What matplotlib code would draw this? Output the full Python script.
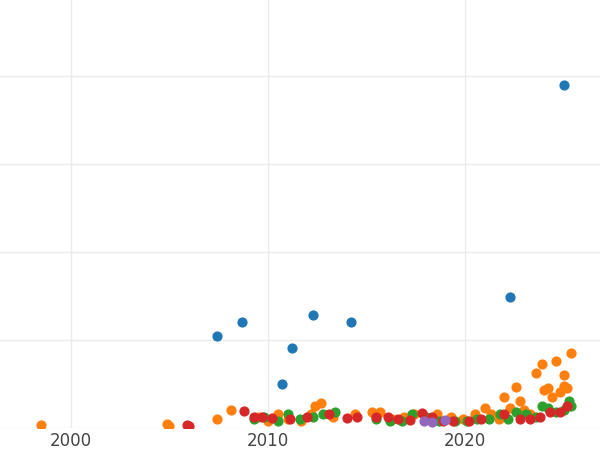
import matplotlib.pyplot as plt

# year, value (arbitrary units)
blue_x = [2007.4, 2008.7, 2012.3, 2014.2, 2011.2, 2010.7, 2022.3, 2025.0]
blue_y = [20.9, 24.1, 25.5, 24.1, 18.2, 9.8, 29.8, 78.0]

orange_x = [1998.5, 2004.9, 2005.0, 2007.4, 2008.1, 2009.5, 2010.0, 2010.5, 2011.0, 2011.7,
            2012.2, 2012.4, 2012.7, 2013.3, 2014.4, 2015.3, 2015.7, 2016.3, 2016.9, 2017.4,
            2018.0, 2018.6, 2019.3, 2019.9, 2020.5, 2021.0, 2021.3, 2021.7, 2022.0, 2022.3,
            2022.6, 2022.8, 2023.0, 2023.6, 2023.9, 2024.0, 2024.2, 2024.4, 2024.6, 2024.8,
            2025.0, 2025.2, 2025.4, 2025.0, 2023.3]
orange_y = [0.5, 0.7, 0.3, 2.0, 4.0, 2.5, 1.5, 3.0, 2.0, 1.5,
            3.0, 5.0, 5.6, 2.5, 3.0, 3.5, 3.5, 2.0, 2.5, 3.0,
            2.5, 3.0, 2.5, 2.0, 3.0, 4.5, 3.0, 2.0, 7.0, 4.5,
            9.2, 6.0, 4.0, 12.4, 14.5, 8.5, 9.0, 7.0, 15.2, 8.0,
            12.0, 9.0, 17.0, 9.5, 3.0]

green_x = [2009.3, 2009.8, 2010.5, 2011.0, 2011.6, 2012.3, 2012.8, 2013.4, 2015.5, 2016.2,
           2016.8, 2017.3, 2018.0, 2018.7, 2019.5, 2020.1, 2020.6, 2021.2, 2021.8, 2022.2,
           2022.6, 2023.1, 2023.6, 2023.9, 2024.2, 2024.6, 2025.0, 2025.3, 2025.4]
green_y = [2.0, 2.5, 1.5, 3.0, 2.0, 2.5, 3.0, 3.5, 2.0, 1.5,
           1.5, 3.0, 2.5, 1.5, 1.5, 1.5, 2.0, 2.0, 3.0, 2.0,
           3.5, 3.0, 2.5, 5.0, 4.5, 3.5, 4.0, 6.0, 5.0]

red_x = [2005.9, 2006.0, 2008.8, 2009.3, 2009.7, 2010.2, 2011.1, 2012.0, 2013.1, 2014.0,
         2014.5, 2015.5, 2016.1, 2016.6, 2017.2, 2017.8, 2018.3, 2018.9, 2019.4, 2020.2,
         2020.8, 2022.0, 2022.8, 2023.3, 2023.8, 2024.3, 2024.8, 2025.2]
red_y = [0.5, 0.3, 3.8, 2.5, 2.5, 2.2, 2.0, 2.5, 3.0, 2.2,
         2.5, 2.5, 2.5, 2.0, 1.8, 3.2, 2.5, 1.5, 1.5, 1.5,
         2.0, 3.0, 2.0, 2.0, 2.5, 3.5, 3.5, 5.0]

purple_x = [2017.9, 2018.3, 2019.0]
purple_y = [1.5, 1.3, 1.6]

fig, ax = plt.subplots(figsize=(6, 4.5), dpi=100)
fig.subplots_adjust(left=0, right=1, top=1, bottom=0.05)
for xs, ys, c in [(blue_x, blue_y, '#1f77b4'), (orange_x, orange_y, '#ff7f0e'),
                  (green_x, green_y, '#2ca02c'), (red_x, red_y, '#d62728'),
                  (purple_x, purple_y, '#9467bd')]:
    ax.scatter(xs, ys, s=40, color=c, zorder=3, clip_on=True)

ax.set_xlim(1996.4, 2026.85)
ax.set_ylim(0, 97.3)
ax.set_xticks([2000, 2010, 2020])
ax.set_yticks([0, 20, 40, 60, 80])
ax.set_yticklabels([])
ax.grid(True, color='#ebebeb', linewidth=1)
ax.tick_params(length=0, labelsize=12, labelcolor='#444444')
for s in ax.spines.values():
    s.set_visible(False)
plt.savefig('out.png', dpi=100)
